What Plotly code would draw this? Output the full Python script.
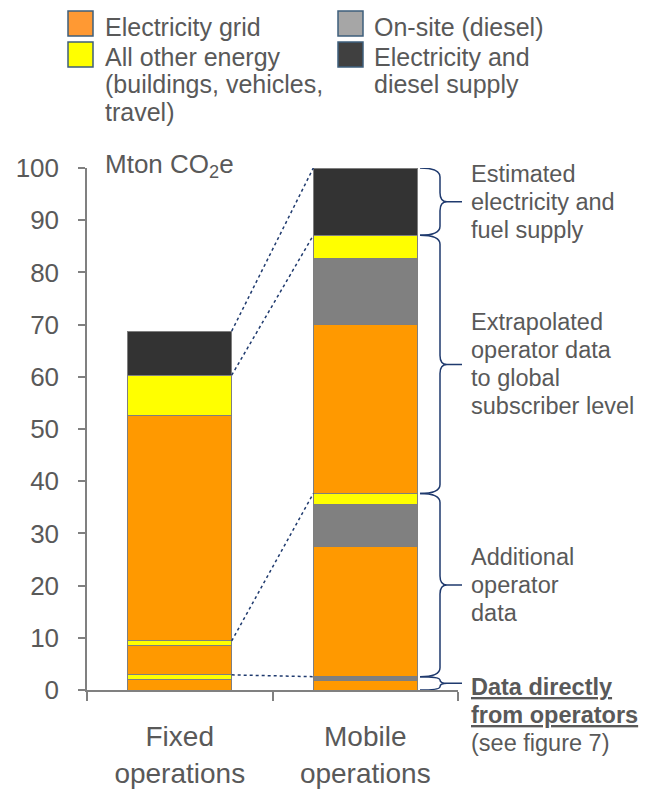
import plotly.graph_objects as go

# ---------------- data ----------------
categories = ["Fixed<br>operations", "Mobile<br>operations"]
# per data-source group: [directly from operators, additional operator data, extrapolated]
fixed_grid = [2.05, 5.7, 43.1]
fixed_diesel = [0.0, 0.0, 0.0]
fixed_other = [0.85, 0.8, 7.8]
fixed_supply = [8.45]
mobile_grid = [1.8, 24.9, 32.4]
mobile_diesel = [0.75, 8.15, 12.7]
mobile_other = [0.0, 2.05, 4.35]
mobile_supply = [12.9]
y_ticks = [0, 10, 20, 30, 40, 50, 60, 70, 80, 90, 100]
legend_col1 = [["Electricity grid"], ["All other energy", "(buildings, vehicles,", "travel)"]]
legend_col2 = [["On-site (diesel)"], ["Electricity and", "diesel supply"]]
bracket_labels = [
    ["Estimated", "electricity and", "fuel supply"],
    ["Extrapolated", "operator data", "to global", "subscriber level"],
    ["Additional", "operator", "data"],
    ["<b><u>Data directly</u></b>", "<b><u>from operators</u></b>", "(see figure 7)"],
]
y_title = "Mton CO<sub>2</sub>e"

# ---------------- style ----------------
GRID = "#FF9900"
DIESEL = "#808080"
OTHER = "#FFFF00"
SUPPLY = "#333333"
SW_COLORS = ["#FF9933", "#FFFF00", "#A6A6A6", "#404040"]
SW_BORDER = "#3E5F7C"
TXT = "#595959"
NAVY = "#1F3A6E"
FONT = "Liberation Sans, Arial, sans-serif"
W, H = 652, 789
L, R, T, B = 87, 194, 168, 99
PW = W - L - R
PH = H - T - B
BAR_W = 0.56
Y_RANGE = [0, 100]


def px_x(px):
    return (px - L) / PW


def px_y(py):
    return (H - B - py) / PH


def d2p(y):
    return (y - Y_RANGE[0]) / (Y_RANGE[1] - Y_RANGE[0])


def px_to_data(dpx):
    return dpx / PH * (Y_RANGE[1] - Y_RANGE[0])


fig = go.Figure()

layers = []
for g in range(3):
    layers.append((fixed_grid[g], mobile_grid[g], GRID))
    layers.append((fixed_diesel[g], mobile_diesel[g], DIESEL))
    layers.append((fixed_other[g], mobile_other[g], OTHER))
layers.append((fixed_supply[0], mobile_supply[0], SUPPLY))

for f, m, c in layers:
    fig.add_trace(go.Bar(
        x=categories, y=[f if f else None, m if m else None],
        width=BAR_W, marker=dict(color=c, line=dict(color="#7F7F7F", width=1)),
        showlegend=False, hoverinfo="skip"))


def tops(grid, diesel, other, supply):
    out, s = [], 0.0
    for g in range(3):
        s += grid[g] + diesel[g] + other[g]
        out.append(s)
    s += supply[0]
    out.append(s)
    return out


ft = tops(fixed_grid, fixed_diesel, fixed_other, fixed_supply)
mt = tops(mobile_grid, mobile_diesel, mobile_other, mobile_supply)

shapes = []
# dotted connectors between bars
for f, m in zip(ft, mt):
    shapes.append(dict(type="line", xref="x", yref="y", x0=0 + BAR_W / 2, y0=f,
                       x1=1 - BAR_W / 2, y1=m,
                       line=dict(color=NAVY, width=1.5, dash="dot")))

# braces along the mobile bar
X0, XV, XC, XT = px_x(420), px_x(440), px_x(447), px_x(462)
bounds = [0.0] + mt
brace_mid = []
for i in range(4):
    y0, y1 = bounds[i], bounds[i + 1]
    ym = (y0 + y1) / 2
    brace_mid.append(ym)
    r = min(px_to_data(9), (y1 - y0) / 4)
    path = (f"M {X0},{y1} Q {XV},{y1} {XV},{y1 - r} L {XV},{ym + r} "
            f"Q {XV},{ym} {XC},{ym} L {XT},{ym} M {XC},{ym} "
            f"Q {XV},{ym} {XV},{ym - r} L {XV},{y0 + r} Q {XV},{y0} {X0},{y0}")
    shapes.append(dict(type="path", xref="paper", yref="y", path=path,
                       line=dict(color=NAVY, width=1.5)))

annotations = []
# bracket labels (one annotation per line)
BR_FS = 23.5
LS = px_to_data(28.0)
for i, lines in enumerate(bracket_labels):
    k = 3 - i  # labels listed top to bottom
    ym = brace_mid[k]
    n = len(lines)
    for j, line in enumerate(lines):
        if k == 0:
            yc = ym - px_to_data(3.5) - j * LS
        else:
            yc = ym + ((n - 1) / 2 - j) * LS
        annotations.append(dict(xref="paper", yref="paper", x=px_x(469), y=d2p(yc),
                                xanchor="left", yanchor="middle", text=line,
                                showarrow=False, font=dict(size=BR_FS, color=TXT, family=FONT)))

# y title
annotations.append(dict(xref="paper", yref="paper", x=px_x(103), y=px_y(166),
                        xanchor="left", yanchor="middle", text=y_title, showarrow=False,
                        font=dict(size=26, color=TXT, family=FONT)))

# legend
LEG_FS = 25
leg_cols = [(legend_col1, 68, 103, [SW_COLORS[0], SW_COLORS[1]]),
            (legend_col2, 338, 372, [SW_COLORS[2], SW_COLORS[3]])]
row_top = [11, 42]
row_base = [34.5, 64.5]
for col, sx, tx, cols in leg_cols:
    for r_i, entry in enumerate(col):
        shapes.append(dict(type="rect", xref="paper", yref="paper",
                           x0=px_x(sx), x1=px_x(sx + 25), y0=px_y(row_top[r_i]),
                           y1=px_y(row_top[r_i] + 25), fillcolor=cols[r_i],
                           line=dict(color=SW_BORDER, width=1.5)))
        for j, line in enumerate(entry):
            base = row_base[r_i] + j * 27.4
            annotations.append(dict(xref="paper", yref="paper", x=px_x(tx),
                                    y=px_y(base - 0.3 * LEG_FS), xanchor="left",
                                    yanchor="middle", text=line, showarrow=False,
                                    font=dict(size=LEG_FS, color=TXT, family=FONT)))

fig.update_layout(
    width=W, height=H, margin=dict(l=L, r=R, t=T, b=B, pad=0, autoexpand=False),
    barmode="stack", bargap=0.44,
    plot_bgcolor="white", paper_bgcolor="white",
    font=dict(family=FONT, color=TXT),
    shapes=shapes, annotations=annotations,
    xaxis=dict(type="category", range=[-0.5, 1.5], showline=True, linecolor="#808080",
               linewidth=1.5, ticks="outside", tickson="boundaries", ticklen=9,
               tickcolor="#808080", tickwidth=1.5, showgrid=False, zeroline=False,
               automargin=False,
               tickfont=dict(size=28, color=TXT, family=FONT), ticklabelstandoff=21),
    yaxis=dict(range=Y_RANGE, tickvals=y_ticks, showline=True, linecolor="#808080",
               linewidth=1.5, ticks="outside", ticklen=7, tickcolor="#808080",
               tickwidth=1.5, showgrid=False, zeroline=False, automargin=False,
               tickfont=dict(size=26, color=TXT, family=FONT), ticklabelstandoff=14),
)

fig.write_html("out.html")
